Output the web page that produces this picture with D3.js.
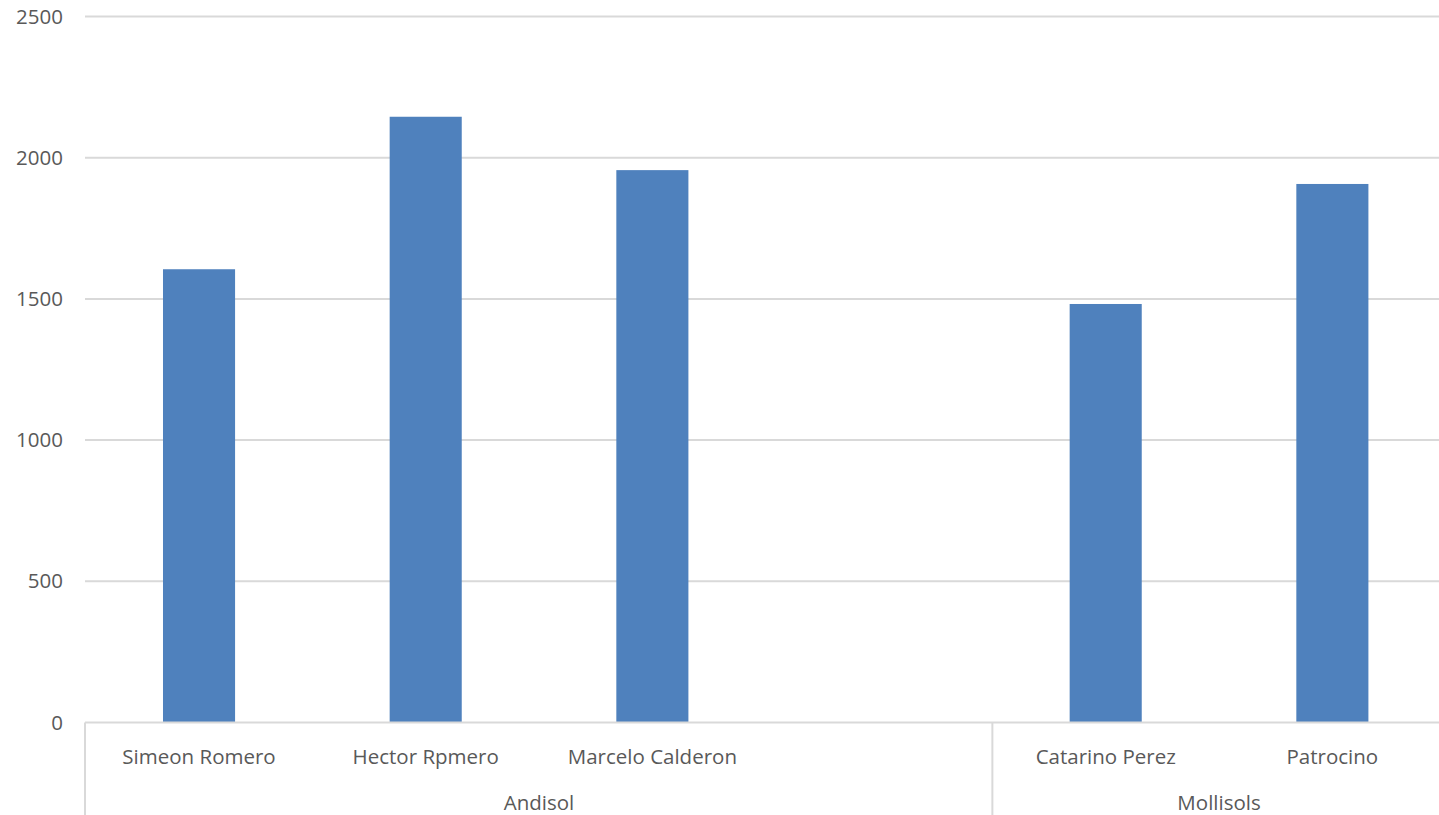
<!DOCTYPE html>
<html>
<head>
<meta charset="utf-8">
<script src="https://cdn.jsdelivr.net/npm/d3@7"></script>
<style>
  html, body { margin: 0; padding: 0; background: #fff; }
  svg { display: block; }
  text { font-family: "Open Sans", "Noto Sans", sans-serif; fill: #595959; }
</style>
</head>
<body>
<svg id="chart" width="1439" height="815"></svg>
<script>
const groups = ["Andisol", "Mollisols"];
const categories = ["Simeon Romero", "Hector Rpmero", "Marcelo Calderon", "", "Catarino Perez", "Patrocino"];
const categoryGroup = ["Andisol", "Andisol", "Andisol", "Andisol", "Mollisols", "Mollisols"];
const values = [1605, 2145, 1956, null, 1482, 1907];
const yTicks = [0, 500, 1000, 1500, 2000, 2500];

(function () {
const svg = d3.select("#chart");
const W = 1439, H = 815;
const mLeft = 85.7, mRight = 1445.7, mTop = 16.5, mBottom = 722.5;
const fs = 20.5;

const x = d3.scaleBand().domain(d3.range(categories.length)).range([mLeft, mRight])
  .paddingInner(0.682).paddingOuter(0.341);
const y = d3.scaleLinear().domain([0, 2500]).range([mBottom, mTop]);

// gridlines
svg.append("g").selectAll("line").data(yTicks.filter(d => d > 0)).join("line")
  .attr("x1", 85).attr("x2", W)
  .attr("y1", d => y(d)).attr("y2", d => y(d))
  .attr("stroke", "#d9d9d9").attr("stroke-width", 2);

// y labels
svg.append("g").selectAll("text").data(yTicks).join("text")
  .attr("x", 63).attr("y", d => y(d)).attr("dy", "0.35em")
  .attr("text-anchor", "end").attr("font-size", fs)
  .text(d => d);

// bars
svg.append("g").selectAll("rect").data(values.map((v, i) => ({v, i})).filter(d => d.v != null)).join("rect")
  .attr("x", d => x(d.i)).attr("width", x.bandwidth())
  .attr("y", d => y(d.v)).attr("height", d => y(0) - y(d.v))
  .attr("fill", "#4f81bd");

// x axis line
svg.append("line").attr("x1", 85).attr("x2", W).attr("y1", y(0)).attr("y2", y(0))
  .attr("stroke", "#d9d9d9").attr("stroke-width", 2);

// group boundaries
const step = x.step();
const bounds = [];
groups.forEach(g => {
  const idx = categoryGroup.map((c, i) => c === g ? i : -1).filter(i => i >= 0);
  const x0 = mLeft + idx[0] * step;
  const x1 = mLeft + (idx[idx.length - 1] + 1) * step;
  bounds.push({g, x0, x1});
});
const sepXs = [85].concat(bounds.slice(0, -1).map(b => b.x1));
svg.append("g").selectAll("line").data(sepXs).join("line")
  .attr("x1", d => d).attr("x2", d => d).attr("y1", y(0)).attr("y2", H)
  .attr("stroke", "#d9d9d9").attr("stroke-width", 2);

// category labels
svg.append("g").selectAll("text").data(categories.map((c, i) => ({c, i}))).join("text")
  .attr("x", d => x(d.i) + x.bandwidth() / 2).attr("y", 757).attr("dy", "0.35em")
  .attr("text-anchor", "middle").attr("font-size", fs)
  .text(d => d.c);

// group labels
svg.append("g").selectAll("text").data(bounds).join("text")
  .attr("x", d => (d.x0 + d.x1) / 2).attr("y", 803).attr("dy", "0.35em")
  .attr("text-anchor", "middle").attr("font-size", fs)
  .text(d => d.g);
})();
</script>
</body>
</html>
